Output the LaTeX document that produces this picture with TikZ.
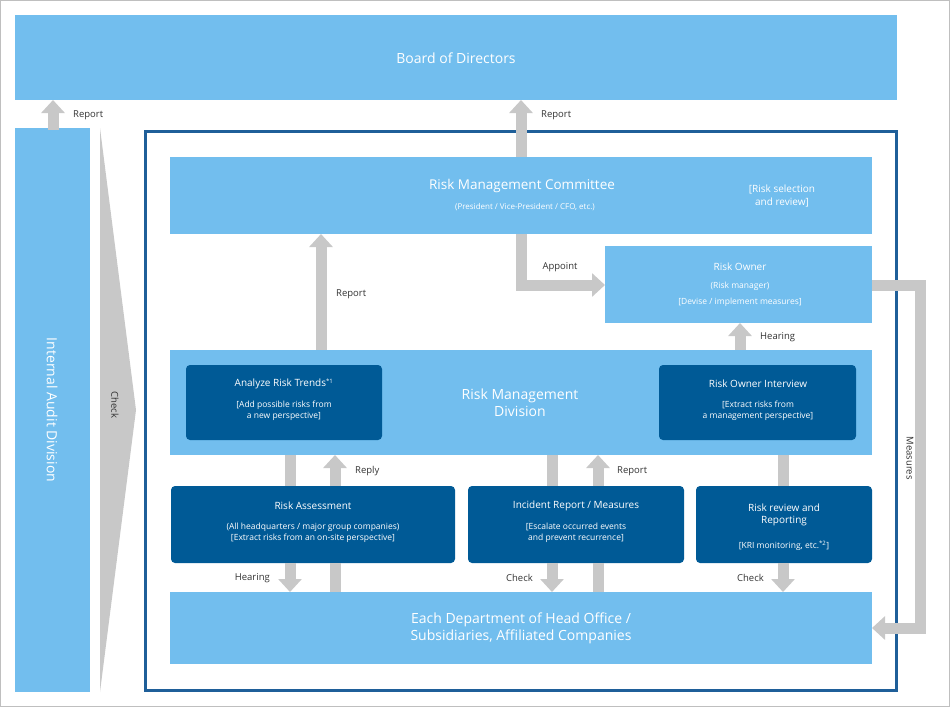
\documentclass[tikz,border=0pt]{standalone}
\usepackage{fontspec}
\setmainfont{Open Sans}
\usetikzlibrary{arrows.meta}
\definecolor{lb}{HTML}{72BEEE}
\definecolor{db}{HTML}{005A96}
\definecolor{fr}{HTML}{1F5F99}
\definecolor{ag}{HTML}{C8C8C8}
\begin{document}
\begin{tikzpicture}[x=1pt,y=-1pt,
 wt/.style={text=white,align=center,inner sep=0pt},
 lab/.style={font=\fontsize{9.5}{11}\selectfont,text=black!80,inner sep=0pt},
 ar/.style={draw=ag,line width=11pt,-{Triangle[width=23pt,length=13pt]}},
 bar/.style={draw=ag,line width=11pt}]
\useasboundingbox (0,0) rectangle (950,707);
\draw[black!25,line width=0.8pt] (0.5,0.5) rectangle (949.5,706.5);
% board
\fill[lb] (15,15) rectangle (897,100);
\node[wt,font=\fontsize{14}{16}\selectfont] (board) at (456,58) {Board of Directors};
% internal audit
\fill[lb] (15,128) rectangle (90,692);
\node[wt,rotate=-90,font=\fontsize{14}{16}\selectfont] (iad) at (52,410) {Internal Audit Division};
\coordinate (iadtop) at (53,130);
\coordinate (boardL) at (53,100);
\draw[ar] (iadtop) -- (boardL);
\node[lab,anchor=west] (rep0) at (73,115) {Report};
% check triangle
\fill[ag] (100,128) -- (136,410) -- (100,692) -- cycle;
\node[lab,rotate=-90] (chk) at (115,405) {Check};
% frame
\draw[fr,line width=3pt] (145,131) rectangle (896,690);
% RMC
\fill[lb] (170,157) rectangle (872,234);
\node[wt,font=\fontsize{13.5}{16}\selectfont] (rmc) at (522,186) {Risk Management Committee};
\node[wt,font=\fontsize{8}{10}\selectfont] (rmcs) at (525,207) {(President / Vice-President / CFO, etc.)};
\node[wt,font=\fontsize{10}{13}\selectfont] (rmcr) at (782,196) {[Risk selection\\ and review]};
% Risk owner
\fill[lb] (605,246) rectangle (872,323);
\node[wt,font=\fontsize{10}{12}\selectfont] (ro) at (740,267) {Risk Owner};
\node[wt,font=\fontsize{8.5}{10}\selectfont] (ro2) at (740,286) {(Risk manager)};
\node[wt,font=\fontsize{8.5}{10}\selectfont] (ro3) at (740,302) {[Devise / implement measures]};
% RMD
\fill[lb] (170,350) rectangle (872,455);
\node[wt,font=\fontsize{14}{17}\selectfont] (rmd) at (520,403) {Risk Management\\Division};
\fill[db,rounded corners=4pt] (186,365) rectangle (382,440);
\node[wt,font=\fontsize{10}{12}\selectfont] (an) at (284,384) {Analyze Risk Trends\textsuperscript{\fontsize{6}{6}\selectfont *1}};
\node[wt,font=\fontsize{8.5}{10.5}\selectfont] (an2) at (284,411) {[Add possible risks from\\a new perspective]};
\fill[db,rounded corners=4pt] (659,365) rectangle (856,440);
\node[wt,font=\fontsize{10}{12}\selectfont] (roi) at (758,384) {Risk Owner Interview};
\node[wt,font=\fontsize{8.5}{10.5}\selectfont] (roi2) at (758,411) {[Extract risks from\\a management perspective]};
% bottom row
\fill[db,rounded corners=4pt] (171,486) rectangle (455,563);
\node[wt,font=\fontsize{10}{12}\selectfont] (ra) at (313,506) {Risk Assessment};
\node[wt,font=\fontsize{8.5}{10.5}\selectfont] (ra2) at (313,533) {(All headquarters / major group companies)\\[1pt][Extract risks from an on-site perspective]};
\fill[db,rounded corners=4pt] (468,486) rectangle (684,563);
\node[wt,font=\fontsize{10}{12}\selectfont] (ir) at (576,506) {Incident Report / Measures};
\node[wt,font=\fontsize{8.5}{10.5}\selectfont] (ir2) at (576,533) {[Escalate occurred events\\and prevent recurrence]};
\fill[db,rounded corners=4pt] (696,486) rectangle (872,563);
\node[wt,font=\fontsize{10}{12}\selectfont] (rr) at (784,515) {Risk review and\\Reporting};
\node[wt,font=\fontsize{8.5}{10.5}\selectfont] (rr2) at (784,546) {[KRI monitoring, etc.\textsuperscript{\fontsize{6}{6}\selectfont *2}]};
% each dept
\fill[lb] (170,592) rectangle (872,664);
\node[wt,font=\fontsize{14}{17}\selectfont] (ed) at (521,628) {Each Department of Head Office /\\Subsidiaries, Affiliated Companies};
% arrows
\coordinate (a1) at (521,157); \coordinate (a2) at (521,100);
\draw[ar] (a1) -- (a2);
\node[lab,anchor=west] at (541,115) {Report};
\coordinate (b1) at (521,234); \coordinate (b2) at (605,285);
\draw[ar] (b1) |- (b2);
\node[lab] at (560,267) {Appoint};
\coordinate (c1) at (740,350); \coordinate (c2) at (740,323);
\draw[ar] (c1) -- (c2);
\node[lab,anchor=west] at (760,337) {Hearing};
\coordinate (d1) at (321,350); \coordinate (d2) at (321,234);
\draw[ar] (d1) -- (d2);
\node[lab,anchor=west] at (336,294) {Report};
\coordinate (m1) at (872,285); \coordinate (m2) at (920,285); \coordinate (m3) at (920,628); \coordinate (m4) at (872,628);
\draw[ar,line join=miter] (m1) -- (m2) -- (m3) -- (m4);
\node[lab,rotate=-90,fill=white,inner sep=1pt] at (910,458) {Measures};
% column 1
\draw[bar] (290,455) -- (290,486);
\draw[ar] (335,486) -- (335,455);
\node[lab,anchor=west] at (355,471) {Reply};
\draw[ar] (290,563) -- (290,592);
\draw[bar] (335,592) -- (335,563);
\node[lab,anchor=east] at (270,578) {Hearing};
% column 2
\draw[bar] (552,455) -- (552,486);
\draw[ar] (598,486) -- (598,455);
\node[lab,anchor=west] at (617,471) {Report};
\draw[ar] (552,563) -- (552,592);
\draw[bar] (598,592) -- (598,563);
\node[lab,anchor=east] at (533,578) {Check};
% column 3
\draw[bar] (783,455) -- (783,486);
\draw[ar] (783,563) -- (783,592);
\node[lab,anchor=east] at (764,578) {Check};
\end{tikzpicture}
\end{document}
